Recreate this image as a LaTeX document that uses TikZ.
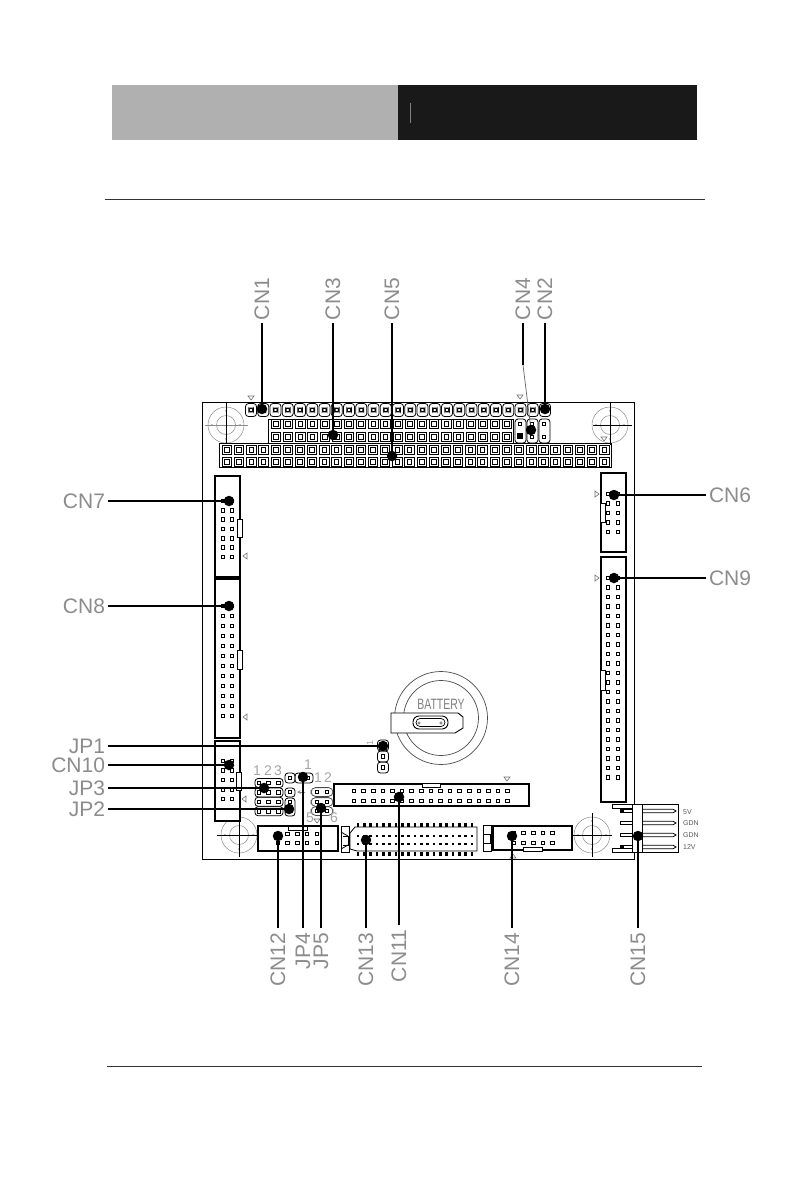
\documentclass[tikz,border=0pt]{standalone}
\usepackage{fontspec}
\setmainfont{Liberation Sans}
\tikzset{
  tag/.style={font=\fontsize{21pt}{21pt}\selectfont,text=black!45,inner sep=3pt,outer sep=0pt},
  numtag/.style={font=\fontsize{14pt}{14pt}\selectfont,text=black!35,inner sep=0pt},
  volt/.style={font=\fontsize{7pt}{7pt}\selectfont,text=black!65,inner sep=0pt,anchor=west},
  spot/.style={circle,fill=black,minimum size=10.5pt,inner sep=0pt},
  leader/.style={line width=1.1pt},
  sqpad/.style={draw,line width=.9pt,minimum size=9.4pt,inner sep=0pt,path picture={\draw [line width=.9pt] (path picture bounding box.center) +(-2.3pt,-2.3pt) rectangle +(2.3pt,2.3pt);}},
  rdpad/.style={draw,line width=.8pt,rounded corners=3pt,minimum width=11pt,minimum height=13pt,inner sep=0pt,path picture={\draw [line width=.9pt] (path picture bounding box.center) +(-2.3pt,-2pt) rectangle +(2.3pt,2pt);}},
  pin/.style={draw,line width=.9pt,minimum size=3.6pt,inner sep=0pt},
  tooth/.style={fill=black,minimum width=2.6pt,minimum height=4pt,inner sep=0pt},
  hole/.style={circle,draw=black!45,line width=.5pt,inner sep=0pt},
  shell/.style={line width=2.7pt,fill=white},
  notch/.style={line width=.8pt,fill=white},
  tipmark/.style={draw=black!55,line width=.6pt},
  wire/.style={line width=.8pt},
  jumper/.style={line width=.8pt,rounded corners=3pt}
}
\begin{document}
\begin{tikzpicture}[x=1pt,y=-1pt]
\useasboundingbox (0,0) rectangle (795,1191);
\fill [white] (0,0) rectangle (795,1191);

% page header and rules
\fill [black!31] (112,85) rectangle (398,140);
\fill [black!90] (398,85) rectangle (697,140);
\draw [black!50,line width=.8pt] (410,103) -- (410,123);
\draw [line width=1pt,black!80] (105,199) -- (705,199);
\draw [line width=1pt,black!80] (107,1066) -- (702,1066);

% board
\draw [line width=1pt] (202,402) rectangle (634,859);

% mounting holes
\foreach \hx/\hy/\name in {226/425/a,610/425/b,239/835/c,592/835/d} {
    \node (hole\name) at (\hx,\hy) [hole,minimum size=36pt] {};
    \node (core\name) at (\hx,\hy) [hole,minimum size=19pt] {};
    \foreach \dx/\dy in {-14/0,14/0,0/-14,0/14}
        \fill [black!50] (\hx+\dx,\hy+\dy) circle (.9pt);
}
\draw [black!45,line width=.6pt] (205,425) -- (248,425);
\draw [wire] (226,403) -- (226,443);
\draw [wire] (593,425) -- (632,425);
\draw [wire] (610,403) -- (610,445);
\draw [wire] (217,835) -- (261,835);
\draw [wire] (239,818) -- (239,857);
\draw [wire] (570,835) -- (613,835);
\draw [wire] (592,813) -- (592,857);

% top headers
\foreach \i in {0,...,24} {
    \node (topA\i) at (251+\i*12.25,410) [rdpad] {};
}
\draw [line width=1pt] (268,419) rectangle (513,443);
\foreach \i in {0,...,19} {
    \node (midA\i) at (276+\i*12.17,424) [sqpad] {};
    \node (midB\i) at (276+\i*12.17,437) [sqpad] {};
}
\draw [line width=1pt] (219,443) rectangle (611,467);
\foreach \i in {0,...,31} {
    \node (lowA\i) at (227+\i*12.17,450) [sqpad] {};
    \node (lowB\i) at (227+\i*12.17,462) [sqpad] {};
}

% CN4
\foreach \bx in {515,527,539}
    \draw [jumper] (\bx,419) rectangle (\bx+11,443);
\node (fourA) at (520,424) [pin] {};
\node (fourB) at (520,436) [fill=black,minimum size=6.5pt,inner sep=0pt] {};
\node (fourC) at (532,424) [pin] {};
\node (fourD) at (532,437) [pin] {};
\node (fourE) at (544,424) [pin] {};
\node (fourF) at (544,437) [pin] {};

% side connectors
\draw [shell] (215,476) rectangle (240,577);
\draw [notch] (237,519) rectangle (242,537);
\foreach \i in {0,...,6} {
    \node (sevenL\i) at (223,501+\i*9.3) [pin] {};
    \node (sevenR\i) at (232,501+\i*9.3) [pin] {};
}
\draw [shell] (215,579) rectangle (240,738);
\draw [notch] (237,650) rectangle (242,669);
\foreach \i in {0,...,11} {
    \node (eightL\i) at (223,606+\i*10) [pin] {};
    \node (eightR\i) at (232,606+\i*10) [pin] {};
}
\draw [shell] (215,741) rectangle (240,821);
\draw [notch] (236,772) rectangle (241,790);
\foreach \i in {0,...,4} {
    \node (tenL\i) at (223,761+\i*9.5) [pin] {};
    \node (tenR\i) at (232,761+\i*9.5) [pin] {};
}
\draw [shell] (601,473) rectangle (626,552);
\draw [notch] (600,503) rectangle (605,522);
\foreach \i in {0,...,4} {
    \node (sixL\i) at (608,494+\i*9.5) [pin] {};
    \node (sixR\i) at (618,494+\i*9.5) [pin] {};
}
\draw [shell] (601,557) rectangle (626,802);
\draw [notch] (600,670) rectangle (605,690);
\foreach \i in {0,...,21} {
    \node (nineL\i) at (608,578+\i*9.5) [pin] {};
    \node (nineR\i) at (618,578+\i*9.5) [pin] {};
}

% bottom connectors
\draw [shell] (334,784) rectangle (529,806);
\draw [notch] (422,783) rectangle (440,787);
\foreach \i in {0,...,16} {
    \node (elevenA\i) at (354+\i*9.6,791) [pin] {};
    \node (elevenB\i) at (354+\i*9.6,801) [pin] {};
}
\draw [shell] (258,826) rectangle (338,851);
\draw [notch] (288,826) rectangle (307,830);
\foreach \i in {0,...,4} {
    \node (twelveA\i) at (278+\i*9.7,834) [pin] {};
    \node (twelveB\i) at (278+\i*9.7,843) [pin] {};
}
\draw [shell] (493,826) rectangle (572,850);
\draw [notch] (523,847) rectangle (542,851);
\foreach \i in {0,...,4} {
    \node (fourteenA\i) at (514+\i*9.6,833) [pin] {};
    \node (fourteenB\i) at (514+\i*9.6,843) [pin] {};
}

% CN13
\draw [wire] (355,827) -- (477,827) -- (477,851) -- (357,851) -- (350,849) -- (350,833) -- cycle;
\draw [wire] (341,826) rectangle (349,852);
\draw [wire] (343,836) -- (348,836) -- (348,845) -- (343,845);
\draw [wire] (341,832) -- (348,836) (341,849) -- (348,845);
\draw [wire] (483,825) rectangle (491,851);
\draw [wire] (484,834) -- (490,834) -- (490,843) -- (484,843);
\foreach \i in {0,...,18} {
    \node (toothA\i) at (358+\i*6.33,824.5) [tooth] {};
    \node (toothB\i) at (358+\i*6.33,853.5) [tooth] {};
    \node (dashA\i) at (358+\i*6.33,836) [tooth,minimum height=2pt] {};
    \node (dashB\i) at (358+\i*6.33,844) [tooth,minimum height=2pt] {};
}

% CN15
\fill [white] (612,804) rectangle (678,852);
\draw [wire] (632,804) -- (678,804) -- (678,852) -- (632,852);
\foreach \py in {811,823,835,847} {
    \draw [wire] (642,\py-1.8) -- (673,\py-1.8) -- (676,\py) -- (673,\py+1.8) -- (642,\py+1.8);
    \draw [wire] (620,\py-1.8) -- (632,\py-1.8) (620,\py+1.8) -- (632,\py+1.8);
    \draw [wire] (620,\py-1.8) -- (620,\py+1.8);
}
\draw [wire,fill=white] (612,804) rectangle (632,808);
\draw [wire,fill=white] (612,848) rectangle (632,852);
\draw [line width=1pt,fill=white] (632,804) rectangle (642,852);
\draw [line width=1pt] (634,852) -- (634,859);
\fill (622,811) +(-2,-2) rectangle +(2,2);
\fill (622,847) +(-2,-2) rectangle +(2,2);
\node (voltA) at (683,812) [volt] {5V};
\node (voltB) at (683,823) [volt] {GDN};
\node (voltC) at (683,835) [volt] {GDN};
\node (voltD) at (683,847) [volt] {12V};

% jumpers
\foreach \i in {0,1,2} {
    \draw [jumper] (377.5,740+\i*11) rectangle (388.5,751+\i*11);
    \node (oneJ\i) at (383,745.5+\i*11) [pin] {};
}
\draw [jumper] (285,773) rectangle (295,783);
\draw [jumper] (295,773) rectangle (313,783);
\node (fourJa) at (290,778) [pin] {};
\node (fourJb) at (301,778) [pin] {};
\node (fourJc) at (308,778) [pin] {};
\draw [jumper] (285,788) rectangle (295,797);
\draw [jumper] (285,798) rectangle (295,816);
\foreach \r in {792,802,811} {
    \node (twoJ\r) at (290,\r) [pin] {};
    \draw [jumper,black!70,rounded corners=4.5pt] (311,\r-4.4) rectangle (333,\r+4.4);
    \node (fiveL\r) at (317,\r) [pin] {};
    \node (fiveR\r) at (327,\r) [pin] {};
}
\foreach \r in {0,1,2,3} {
    \draw [jumper] (255,778.5+\r*9.4) rectangle (283,787.5+\r*9.4);
    \foreach \i in {0,1,2} {
        \node (threeJ\i\r) at (259+\i*9.6,783+\r*9.4) [pin] {};
    }
}
\node (numA) at (257,771) [numtag] {1};
\node (numB) at (268,771) [numtag] {2};
\node (numC) at (278,771) [numtag] {3};
\node (numD) at (308,765) [numtag] {1};
\node (numE) at (318,778) [numtag] {1};
\node (numF) at (328,778) [numtag] {2};
\node (numG) at (310,818) [numtag] {5};
\node (numH) at (334,818) [numtag] {6};
\node (numI) at (370,743) [numtag,rotate=90,font=\fontsize{9pt}{9pt}\selectfont] {1};
\draw [black!45,line width=.7pt,->,>=stealth] (305,792) -- (297,792);

% battery
\node (battOut) at (441,718) [hole,draw=black!70,line width=.7pt,minimum size=93pt] {};
\node (battIn) at (441,718) [hole,draw=black!70,line width=.7pt,minimum size=75pt] {};
\node (battTxt) at (441,704) [text=black!50,font=\fontsize{15pt}{15pt}\selectfont,inner sep=0pt] {\scalebox{.7}[1]{BATTERY}};
\draw [line width=.9pt,fill=white] (391,713) -- (458,713) -- (463,717) -- (463,728) -- (455,733) -- (391,733) -- cycle;
\draw [line width=.9pt,rounded corners=6pt] (413,716) rectangle (448,729);
\draw [line width=.7pt,rounded corners=4pt] (416,718.5) rectangle (445,726.5);
\draw [black!60,line width=.5pt] (419,723) circle (1.2pt) (441,723) circle (1.2pt);

% little direction marks
\foreach \tx/\ty in {251/398,520/397,604/439,507/779,317/821}
    \draw [tipmark,fill=white] (\tx-3,\ty-2) -- (\tx+3,\ty-2) -- (\tx,\ty+2) -- cycle;
\foreach \tx/\ty in {597/494,597/578}
    \draw [tipmark,fill=white] (\tx-2,\ty-3) -- (\tx-2,\ty+3) -- (\tx+2,\ty) -- cycle;
\foreach \tx/\ty in {245/556,245/717,244/799}
    \draw [tipmark,fill=white] (\tx+2,\ty-3) -- (\tx+2,\ty+3) -- (\tx-2,\ty) -- cycle;
\draw [tipmark,fill=white] (510,858) -- (516,858) -- (513,854) -- cycle;

% spots
\foreach \name/\sx/\sy in {CN1/262/409,CN3/333/435,CN5/392/456,CN4/531/430,CN2/545/409,
    CN7/229/501,CN8/229/606,JP1/383/746,CN10/229/765,JP3/264/788,JP2/289/809,
    CN6/614/495,CN9/614/578,CN12/278/836,JP4/303/777,JP5/321/808,
    CN13/366/840,CN11/399/797,CN14/512/836,CN15/638/836} {
    \node (spot\name) at (\sx,\sy) [spot] {};
}

% top labels
\foreach \name/\lx in {CN1/262,CN3/333,CN5/392,CN2/545}{
    \node (lbl\name) at (\lx,323) [tag,rotate=90,anchor=west] {\name};
    \draw [leader] (lbl\name.west) -- (spot\name);
}
\node (lblCN4) at (523,323) [tag,rotate=90,anchor=west] {CN4};
\coordinate (bendCN4) at (523,365);
\draw [leader] (lblCN4.west) -- (bendCN4);
\draw [black!60,line width=.7pt] (bendCN4) -- (spotCN4);

% left labels
\foreach \name/\ly in {CN7/501,CN8/606,JP1/746,CN10/765,JP3/788,JP2/809}{
    \node (lbl\name) at (108,\ly) [tag,anchor=east] {\name};
    \draw [leader] (lbl\name.east) -- (spot\name);
}

% right labels
\foreach \name/\ly in {CN6/495,CN9/578}{
    \node (lbl\name) at (706,\ly) [tag,anchor=west] {\name};
    \draw [leader] (lbl\name.west) -- (spot\name);
}

% bottom labels
\foreach \name/\lx/\ly in {CN12/278/928,JP4/303/928,JP5/321/928,CN13/366/928,CN11/399/925,CN14/512/928,CN15/638/928}{
    \node (lbl\name) at (\lx,\ly) [tag,rotate=90,anchor=east,inner sep=5pt] {\name};
    \draw [leader] (lbl\name.east) -- (spot\name);
}

\end{tikzpicture}
\end{document}
